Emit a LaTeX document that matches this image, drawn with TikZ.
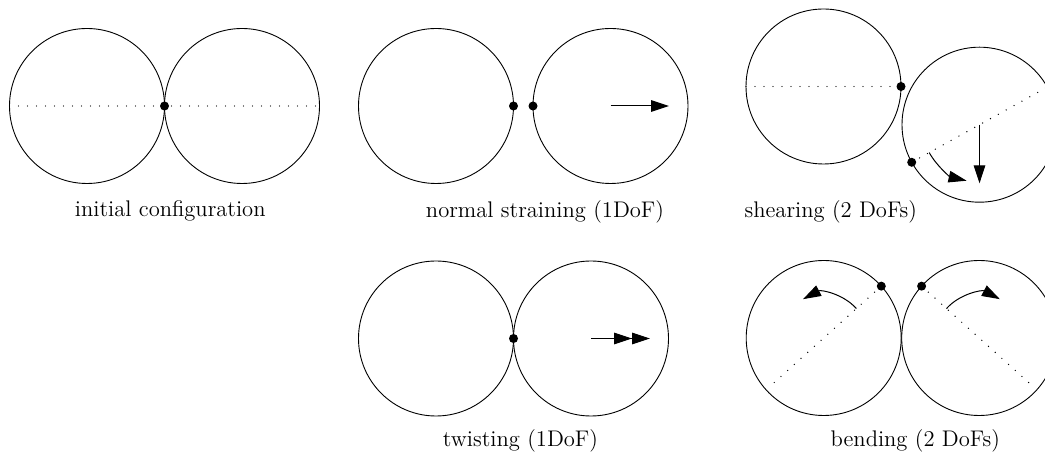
\documentclass[tikz,border=0pt]{standalone}
\usetikzlibrary{arrows.meta,calc}
\begin{document}
\begin{tikzpicture}[x=0.5pt,y=0.5pt,
  ball/.style={circle,draw,line width=0.45pt,minimum size=77.5pt,inner sep=0pt,outer sep=0pt},
  contact/.style={circle,fill,inner sep=0pt,minimum size=4.5pt},
  axis/.style={line width=0.7pt,line cap=round,dash pattern=on 0pt off 4.5pt},
  arr/.style={line width=0.5pt,-{Triangle[length=9pt,width=5.8pt]}},
  darr/.style={line width=0.5pt,-{Triangle[length=9pt,width=5.8pt]Triangle[length=9pt,width=5.8pt]}},
  lbl/.style={anchor=base,inner sep=0pt,font=\fontsize{11.3}{13}\selectfont}]
\useasboundingbox (0,0) rectangle (1045,460);

% initial configuration
\node[ball] (a1) at (87,354) {};
\node[ball] (a2) at (242,354) {};
\draw[axis] (a1.west) -- (a2.east);
\node[contact] (ac) at (a1.east) {};
\node[lbl] (la) at (170.3,243) {initial configuration};

% normal straining
\node[ball] (b1) at (436,354) {};
\node[ball] (b2) at (610.5,354) {};
\node[contact] (b1d) at (b1.east) {};
\node[contact] (b2d) at (b2.west) {};
\coordinate (b2t) at (669,354);
\draw[arr] (b2.center) -- (b2t);
\node[lbl] (lb) at (545,242) {normal straining (1DoF)};

% shearing
\node[ball] (c1) at (823.5,373.5) {};
\node[ball] (c2) at (979.5,335.3) {};
\draw[axis] (c1.west) -- (c1.east);
\node[contact] (c1d) at (c1.east) {};
\draw[axis] (c2.209) -- (c2.29);
\node[contact] (c2d) at (c2.209) {};
\coordinate (c2v) at (979.5,276.7);
\draw[arr] (c2.center) -- (c2v);
\draw[arr] ($(c2.center)+(209:57.5)$) arc[start angle=209,end angle=257,radius=28.75pt];
\node[lbl] (lc) at (830.8,242) {shearing (2 DoFs)};

% twisting
\node[ball] (d1) at (436,121.5) {};
\node[ball] (d2) at (591,121.5) {};
\node[contact] (dd) at (d1.east) {};
\coordinate (d2t) at (650,121.5);
\draw[darr] (d2.center) -- (d2t);
\node[lbl] (ld) at (520.5,13) {twisting (1DoF)};

% bending
\node[ball] (e1) at (823.7,122) {};
\node[ball] (e2) at (979.2,122) {};
\draw[axis] (e1.42) -- ($(e1.center)+(222:72)$);
\draw[axis] (e2.138) -- ($(e2.center)+(318:72)$);
\node[contact] (e1d) at (e1.42) {};
\node[contact] (e2d) at (e2.138) {};
\draw[arr] ($(e1.center)+(42:44)$) arc[start angle=42,end angle=118,radius=22pt];
\draw[arr] ($(e2.center)+(138:44)$) arc[start angle=138,end angle=62,radius=22pt];
\node[lbl] (le) at (915.3,13) {bending (2 DoFs)};
\end{tikzpicture}
\end{document}
